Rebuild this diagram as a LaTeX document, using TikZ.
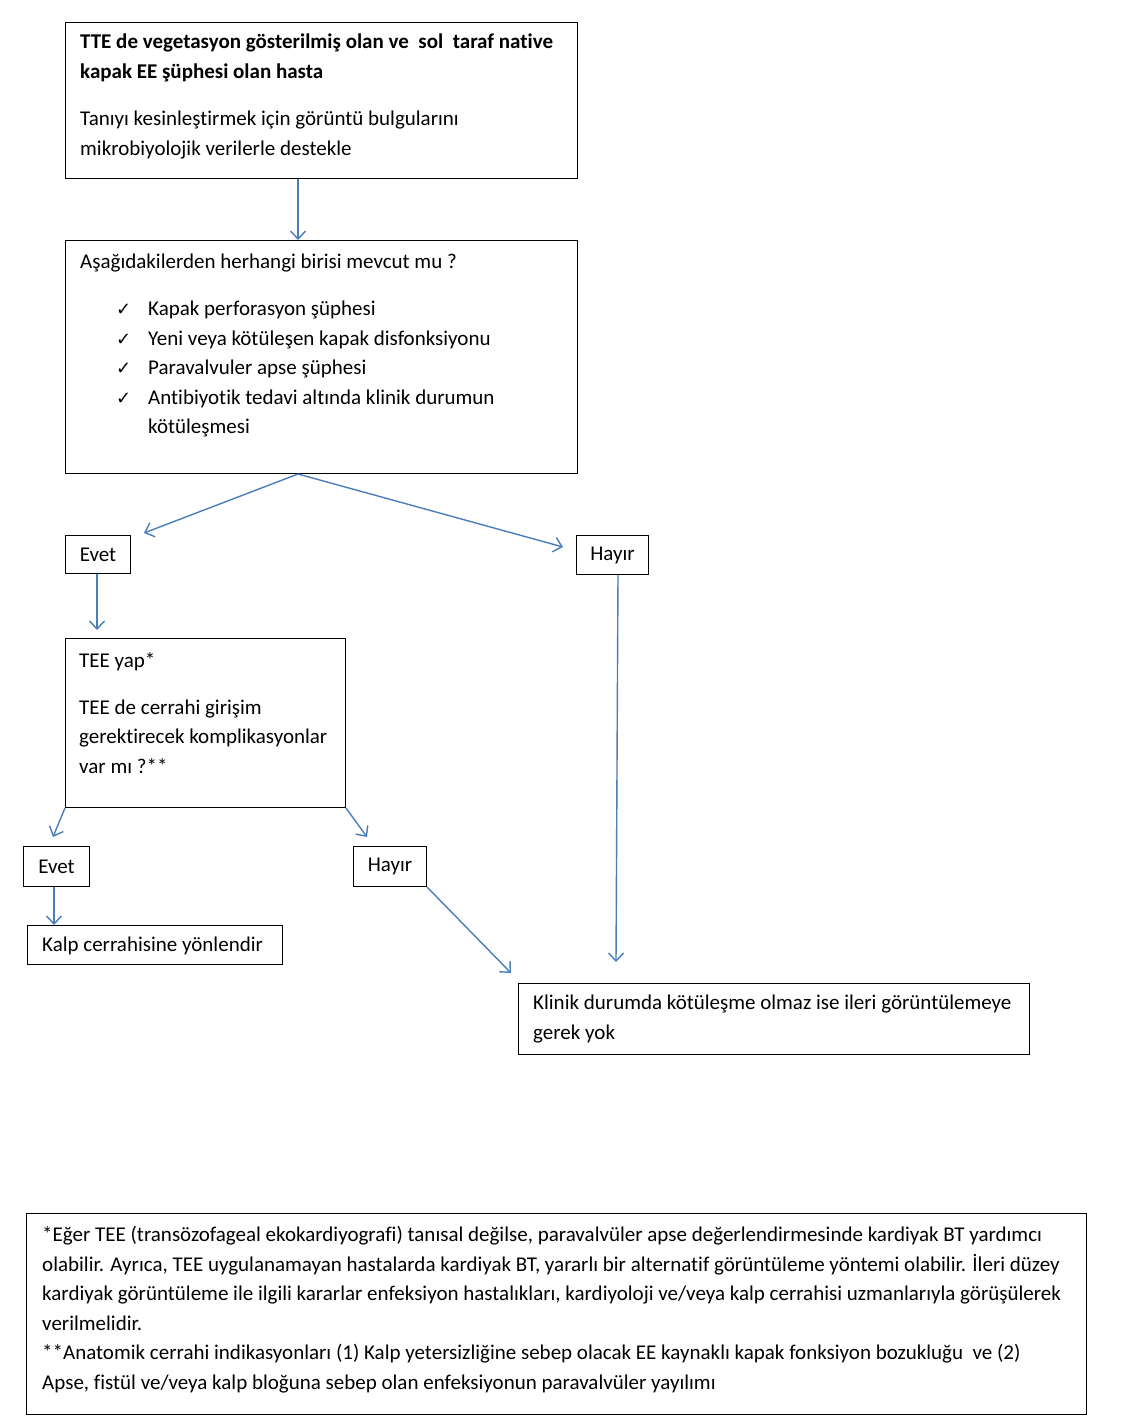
\documentclass[tikz,border=0pt]{standalone}
\usepackage{fontspec}
\setmainfont[Ligatures=NoCommon]{Carlito}
\newfontfamily\dejavu{DejaVu Sans}
\usetikzlibrary{arrows.meta,calc}
\definecolor{arrowblue}{HTML}{4A7EBB}
\newcommand{\ck}{{\dejavu\fontsize{18}{18}\selectfont ✓}}
\tikzset{
 box/.style={draw=black, line width=1pt, inner sep=0pt, anchor=north west},
 txt/.style={inner sep=0pt, anchor=north west, align=left, font=\fontsize{21}{29.5}\selectfont},
 lbl/.style={font=\fontsize{21}{29.5}\selectfont},
 arr/.style={draw=arrowblue, line width=1.4pt, -{Straight Barb[length=8pt,width=15pt,line width=1.4pt]}},
}
\begin{document}
\begin{tikzpicture}[x=1pt,y=-1pt]
\useasboundingbox (0,0) rectangle (1146,1421);
% boxes
\node[box, minimum width=512pt, minimum height=156pt] (b1) at (65,22) {};
\node[txt] (b1t) at (80,34) {\textbf{TTE de vegetasyon gösterilmiş olan ve \ sol \ taraf native}\\
\textbf{kapak EE şüphesi olan hasta}\\[18pt]
Tanıyı kesinleştirmek için görüntü bulgularını\\
mikrobiyolojik verilerle destekle};

\node[box, minimum width=512pt, minimum height=233pt] (b2) at (65,240) {};
\node[txt] (b2t) at (80,254) {Aşağıdakilerden herhangi birisi mevcut mu ?\\[17.5pt]
\hspace*{36pt}\makebox[32pt][l]{\ck}Kapak perforasyon şüphesi\\
\hspace*{36pt}\makebox[32pt][l]{\ck}Yeni veya kötüleşen kapak disfonksiyonu\\
\hspace*{36pt}\makebox[32pt][l]{\ck}Paravalvuler apse şüphesi\\
\hspace*{36pt}\makebox[32pt][l]{\ck}Antibiyotik tedavi altında klinik durumun\\
\hspace*{68pt}kötüleşmesi};

\node[box, lbl, minimum width=65pt, minimum height=38pt] (e1) at (65,535) {Evet};
\node[box, lbl, minimum width=72pt, minimum height=39pt] (h1) at (576,535) {Hayır};

\node[box, minimum width=280pt, minimum height=169pt] (tee) at (65,638) {};
\node[txt] (teet) at (79,652) {TEE yap*\\[17.5pt]
TEE de cerrahi girişim\\
gerektirecek komplikasyonlar\\
var mı ?**};

\node[box, lbl, minimum width=66pt, minimum height=40pt] (e2) at (23,846) {Evet};
\node[box, lbl, minimum width=73pt, minimum height=40pt] (h2) at (353,846) {Hayır};

\node[box, minimum width=255pt, minimum height=39pt] (kalp) at (27,925) {};
\node[lbl, anchor=west, inner sep=0pt] (kalpt) at (42,946) {Kalp cerrahisine yönlendir};

\node[box, minimum width=511pt, minimum height=71pt] (kl) at (518,983) {};
\node[txt] (klt) at (533,995) {Klinik durumda kötüleşme olmaz ise ileri görüntülemeye\\
gerek yok};

\node[box, minimum width=1060pt, minimum height=201pt] (fn) at (26,1213) {};
\node[txt] (fnt) at (42,1226) {*Eğer TEE (transözofageal ekokardiyografi) tanısal değilse, paravalvüler apse değerlendirmesinde kardiyak BT yardımcı\\
olabilir. Ayrıca, TEE uygulanamayan hastalarda kardiyak BT, yararlı bir alternatif görüntüleme yöntemi olabilir. İleri düzey\\
kardiyak görüntüleme ile ilgili kararlar enfeksiyon hastalıkları, kardiyoloji ve/veya kalp cerrahisi uzmanlarıyla görüşülerek\\
verilmelidir.\\
**Anatomik cerrahi indikasyonları (1) Kalp yetersizliğine sebep olacak EE kaynaklı kapak fonksiyon bozukluğu \ ve (2)\\
Apse, fistül ve/veya kalp bloğuna sebep olan enfeksiyonun paravalvüler yayılımı};

% connectors
\draw[arr] ($(b1.south west)+(233,0)$) -- ($(b2.north west)+(233,0)$);
\draw[arr] ($(b2.south west)+(233,0)$) -- ($(e1.north east)+(13,-2)$);
\draw[arr] ($(b2.south west)+(233,0)$) -- ($(h1.north west)+(-13,12)$);
\draw[arr] ($(e1.south west)+(32,0)$) -- ($(tee.north west)+(32,-8)$);
\draw[arr] (tee.south west) -- ($(e2.north west)+(30,-9)$);
\draw[arr] (tee.south east) -- ($(h2.north west)+(14,-9)$);
\draw[arr] ($(e2.south west)+(31,0)$) -- ($(kalp.north west)+(27,0)$);
\draw[arr] (h2.south east) -- ($(kl.north west)+(-7,-10)$);
\draw[arr] ($(h1.south west)+(42,0)$) -- ($(kl.north west)+(98,-21)$);
\end{tikzpicture}
\end{document}
